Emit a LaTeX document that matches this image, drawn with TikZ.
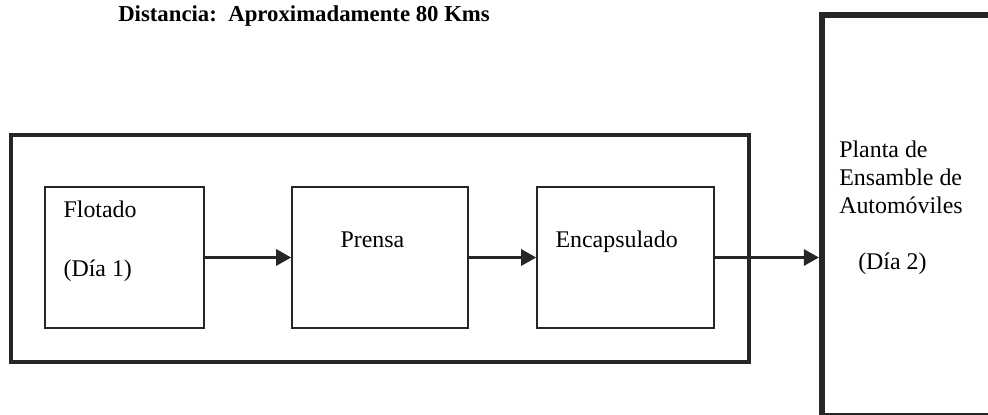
\documentclass[tikz,border=0pt]{standalone}
\usepackage{fontspec}
\setmainfont{Liberation Serif}
\usepackage{tikz}
\usetikzlibrary{arrows.meta,positioning}

\begin{document}
\begin{tikzpicture}[
  every node/.style={font=\fontsize{17}{20}\selectfont},
  procbox/.style={
    rectangle, draw=black!85, line width=1pt,
    minimum height=3.525cm, inner sep=0pt
  },
  marco/.style={
    rectangle, draw=black!85, line width=3.5pt,
    minimum width=18.45cm, minimum height=5.675cm, inner sep=0pt
  },
  plantabox/.style={
    rectangle, draw=black!85, line width=4.3pt,
    minimum width=5.5cm, minimum height=10.03cm, inner sep=0pt
  },
  txt/.style={
    inner sep=0pt, align=left, anchor=base west
  },
  flecha/.style={
    -{Triangle[length=0.38cm,width=0.4cm]}, line width=2.3pt, black!85
  },
]

\useasboundingbox (0,0) rectangle (24.7,10.375);
\clip (0,0) rectangle (24.7,10.375);

% --- Title ---
\node[txt, font=\fontsize{16.2}{19}\selectfont\bfseries] (distancia) at (2.95,9.825)
  {Distancia:~~Aproximadamente 80 Kms};

% --- Boxes ---
\node[marco] (fabrica) at (9.5,4.1625) {};

\node[procbox, minimum width=3.975cm] (flotado) at (3.1125,3.9375) {};
\node[procbox, minimum width=4.4cm] (prensa) at (9.5,3.9375) {};
\node[procbox, minimum width=4.425cm] (encapsulado) at (15.6375,3.9375) {};

\node[plantabox, anchor=north west] (planta) at (20.475,10.075) {};

% --- Texts (base = last line) ---
\node[txt] (flotadotxt) at ([xshift=0.475cm,yshift=-2.25cm]flotado.north west)
  {Flotado\\[22pt](Día 1)};
\node[txt] (prensatxt) at ([xshift=1.225cm,yshift=-1.525cm]prensa.north west)
  {Prensa};
\node[txt] (encapsuladotxt) at ([xshift=0.475cm,yshift=-1.525cm]encapsulado.north west)
  {Encapsulado};
\node[txt] (plantatxt) at ([xshift=0.5cm,yshift=-6.45cm]planta.north west)
  {Planta de\\Ensamble de\\Automóviles\\[20pt]\hspace*{13.5pt}(Día 2)};

% --- Arrows ---
\draw[flecha] (flotado.east) -- (prensa.west);
\draw[flecha] (prensa.east) -- (encapsulado.west);
\draw[flecha] (encapsulado.east) -- (encapsulado.east -| planta.west);

\end{tikzpicture}
\end{document}
